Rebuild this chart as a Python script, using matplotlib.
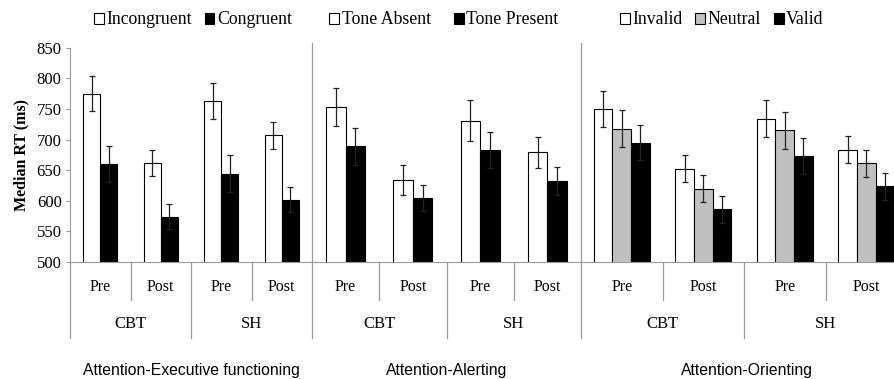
import numpy as np
import matplotlib
matplotlib.use("Agg")
import matplotlib.pyplot as plt
from matplotlib.patches import Patch
from matplotlib.lines import Line2D
from matplotlib.transforms import blended_transform_factory

plt.rcParams['font.family'] = ['Liberation Serif', 'DejaVu Serif']

# categorie e dati
sessions = ["Pre", "Post", "Pre", "Post"]
treatments = ["CBT", "SH"]
panel_titles = ["Attention-Executive functioning", "Attention-Alerting", "Attention-Orienting"]

exec_labels = ["Incongruent", "Congruent"]
exec_incongruent = [775, 662, 763, 707]
exec_incongruent_err = [29, 21, 29, 22]
exec_congruent = [660, 574, 644, 602]
exec_congruent_err = [29, 20, 30, 21]

alert_labels = ["Tone Absent", "Tone Present"]
alert_absent = [753, 634, 731, 679]
alert_absent_err = [31, 24, 33, 25]
alert_present = [689, 604, 683, 632]
alert_present_err = [30, 21, 30, 23]

orient_labels = ["Invalid", "Neutral", "Valid"]
orient_invalid = [750, 652, 734, 683]
orient_invalid_err = [29, 22, 30, 22]
orient_neutral = [718, 620, 715, 661]
orient_neutral_err = [30, 22, 30, 22]
orient_valid = [695, 586, 673, 624]
orient_valid_err = [29, 22, 30, 22]

W, H = 894, 379
fig = plt.figure(figsize=(W / 100, H / 100), dpi=100)
line_grey = '#9a9a9a'

def fy(px):
    return 1 - px / H

bottom = fy(262)
top = fy(47.7)
edges_px = [70, 312, 581, 907]

panels = [
    (exec_labels, [exec_incongruent, exec_congruent], [exec_incongruent_err, exec_congruent_err],
     ['white', 'black'], 0.28),
    (alert_labels, [alert_absent, alert_present], [alert_absent_err, alert_present_err],
     ['white', 'black'], 0.29),
    (orient_labels, [orient_invalid, orient_neutral, orient_valid],
     [orient_invalid_err, orient_neutral_err, orient_valid_err],
     ['white', '#c0c0c0', 'black'], 0.23),
]
legend_x = [193, 444, 722]
title_x = [191, 447, 747]

x = np.arange(len(sessions))
for i, (labels, series, errs, colors, bw) in enumerate(panels):
    left = edges_px[i] / W
    width = (edges_px[i + 1] - edges_px[i]) / W
    ax = fig.add_axes([left, bottom, width, top - bottom])
    n = len(series)
    for k in range(n):
        pos = x + (k - (n - 1) / 2) * bw
        ax.bar(pos, series[k], bw, color=colors[k], edgecolor='black', linewidth=0.8,
               yerr=errs[k], capsize=2.4, error_kw=dict(elinewidth=0.9, capthick=0.9, ecolor='#222222'))
    ax.set_xlim(-0.5, len(sessions) - 0.5)
    ax.set_ylim(500, 850)
    ax.set_xticks([])
    for s in ['top', 'right', 'left']:
        ax.spines[s].set_visible(False)
    ax.spines['bottom'].set_color(line_grey)
    ax.patch.set_alpha(0)
    if i == 0:
        ax.spines['left'].set_visible(True)
        ax.spines['left'].set_color(line_grey)
        ax.set_yticks(np.arange(500, 851, 50))
        ax.tick_params(axis='y', length=3, color=line_grey, labelsize=12, pad=3)
        ax.set_ylabel("Median RT (ms)", fontweight='bold', fontsize=11.5, labelpad=5)
    else:
        ax.set_yticks([])

    tr = blended_transform_factory(ax.transData, fig.transFigure)
    for j, s in enumerate(sessions):
        ax.text(x[j], fy(287), s, transform=tr, ha='center', va='center', fontsize=11.5)
    for g, t in enumerate(treatments):
        ax.text(2 * g + 0.5, fy(324), t, transform=tr, ha='center', va='center', fontsize=12)
    for d in [0.5, 2.5]:
        ax.add_line(Line2D([d, d], [bottom, fy(300)], transform=tr, color=line_grey, lw=0.9, clip_on=False))
    ax.add_line(Line2D([1.5, 1.5], [bottom, fy(338)], transform=tr, color=line_grey, lw=0.9, clip_on=False))

    fig.text(title_x[i] / W, fy(370), panel_titles[i],
             ha='center', va='center', fontsize=11.3, family=['Liberation Sans', 'DejaVu Sans'])

    handles = [Patch(facecolor=c, edgecolor='black', linewidth=0.8) for c in colors]
    fig.legend(handles, labels, loc='center', bbox_to_anchor=(legend_x[i] / W, fy(20)),
               ncol=n, frameon=False, fontsize=12.8, handlelength=0.55, handleheight=0.55,
               handletextpad=0.15, columnspacing=0.7 if i != 1 else 1.3, borderaxespad=0)

# linee di separazione tra i pannelli
fig.add_artist(Line2D([70 / W, 70 / W], [bottom, fy(338)], color=line_grey, lw=0.9))
for e in edges_px[1:3]:
    fig.add_artist(Line2D([e / W, e / W], [fy(43), fy(338)], color=line_grey, lw=0.9))

fig.savefig("out.png", dpi=100)
